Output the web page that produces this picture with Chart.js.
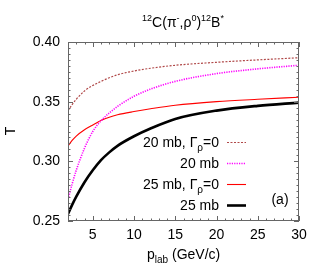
<!DOCTYPE html>
<html>
<head>
<meta charset="utf-8">
<script src="https://cdn.jsdelivr.net/npm/chart.js@4"></script>
<style>
  html, body { margin: 0; padding: 0; background: #fff; }
  #wrap { width: 325px; height: 280px; }
</style>
</head>
<body>
<div id="wrap"><canvas id="grafico" width="325" height="280"></canvas></div>
<script>
// p_lab (GeV/c)
const pLab = [2, 2.5, 3, 4, 5, 6, 7, 8, 10, 12, 15, 20, 25, 30];
// T for each curve
const t20Gamma0 = [0.3425, 0.3475, 0.352, 0.359, 0.3635, 0.367, 0.370, 0.3725, 0.3757, 0.378, 0.3805, 0.383, 0.385, 0.3868];
const t20 = [0.268, 0.281, 0.2925, 0.311, 0.325, 0.334, 0.3405, 0.346, 0.3545, 0.3605, 0.367, 0.3735, 0.3775, 0.3805];
const t25Gamma0 = [0.3129, 0.3175, 0.3212, 0.3265, 0.3305, 0.3342, 0.337, 0.339, 0.3417, 0.344, 0.347, 0.350, 0.352, 0.3537];
const t25 = [0.2559, 0.2635, 0.2704, 0.2825, 0.2925, 0.301, 0.3075, 0.313, 0.321, 0.3275, 0.3355, 0.3425, 0.3465, 0.3492];
const xTicks = [5, 10, 15, 20, 25, 30];
const yTicks = [0.25, 0.30, 0.35, 0.40];

const FONT = 'Liberation Sans, Arial, sans-serif';

function pts(ys) {
    return pLab.map((x, i) => ({ x: x, y: ys[i] }));
}

const series = [
    { label: '20 mb, Γρ=0', data: t20Gamma0, color: '#b04848', width: 1.2, dash: [2, 1.5] },
    { label: '20 mb', data: t20, color: '#ff00ff', width: 1.6, dash: [1.2, 1.2] },
    { label: '25 mb, Γρ=0', data: t25Gamma0, color: '#ff0000', width: 1.1, dash: [] },
    { label: '25 mb', data: t25, color: '#000000', width: 2.6, dash: [] }
];

// desenha texto com partes sobrescritas / subscritas
function richText(ctx, parts, x, y, align) {
    let total = 0;
    parts.forEach(p => {
        ctx.font = p.size + 'px ' + FONT;
        p.w = ctx.measureText(p.t).width;
        total += p.w;
    });
    let cx = align === 'right' ? x - total : (align === 'center' ? x - total / 2 : x);
    parts.forEach(p => {
        ctx.font = p.size + 'px ' + FONT;
        ctx.fillText(p.t, cx, y + (p.dy || 0));
        cx += p.w;
    });
}

const decorPlugin = {
    id: 'decor',
    afterDraw(chart) {
        const ctx = chart.ctx;
        const a = chart.chartArea;
        const xs = chart.scales.x, ys = chart.scales.y;
        ctx.save();

        // moldura
        ctx.strokeStyle = '#666';
        ctx.lineWidth = 1;
        ctx.strokeRect(a.left + 0.5, a.top + 0.5, a.right - a.left - 1, a.bottom - a.top - 1);

        // marcas do eixo X (em cima e em baixo)
        for (let v = 2; v <= 30; v += 1) {
            const px = Math.round(xs.getPixelForValue(v)) + 0.5;
            const len = v % 5 === 0 ? 5 : 2.5;
            ctx.beginPath();
            ctx.moveTo(px, a.bottom); ctx.lineTo(px, a.bottom - len);
            ctx.moveTo(px, a.top); ctx.lineTo(px, a.top + len);
            ctx.stroke();
        }
        // marcas do eixo Y (esquerda e direita)
        for (let k = 0; k <= 30; k++) {
            const v = 0.25 + k * 0.005;
            const py = Math.round(ys.getPixelForValue(v)) + 0.5;
            const len = k % 10 === 0 ? 5 : 2.5;
            ctx.beginPath();
            ctx.moveTo(a.left, py); ctx.lineTo(a.left + len, py);
            ctx.moveTo(a.right, py); ctx.lineTo(a.right - len, py);
            ctx.stroke();
        }

        ctx.fillStyle = '#000';
        ctx.textBaseline = 'alphabetic';

        // título
        richText(ctx, [
            { t: '12', size: 9, dy: -6 },
            { t: 'C(π', size: 14 },
            { t: '-', size: 9, dy: -6 },
            { t: ',ρ', size: 14 },
            { t: '0', size: 9, dy: -6 },
            { t: ')', size: 14 },
            { t: '12', size: 9, dy: -6 },
            { t: 'B', size: 14 },
            { t: '*', size: 9, dy: -6 }
        ], 183, 27, 'center');

        // título do eixo X
        richText(ctx, [
            { t: 'p', size: 14 },
            { t: 'lab', size: 10, dy: 4 },
            { t: ' (GeV/c)', size: 14 }
        ], 147, 259, 'left');

        // título do eixo Y
        ctx.save();
        ctx.translate(15, 131);
        ctx.rotate(-Math.PI / 2);
        ctx.font = '14px ' + FONT;
        ctx.textAlign = 'center';
        ctx.fillText('T', 0, 0);
        ctx.restore();

        // legenda
        const rows = [142, 163, 184, 205];
        series.forEach((s, i) => {
            const y = rows[i];
            let parts;
            if (s.label.indexOf('Γ') >= 0) {
                const base = s.label.split('Γ')[0];
                parts = [
                    { t: base + 'Γ', size: 14 },
                    { t: 'ρ', size: 10, dy: 4 },
                    { t: '=0', size: 14 }
                ];
            } else {
                parts = [{ t: s.label, size: 14 }];
            }
            richText(ctx, parts, 219, y + 5, 'right');
            ctx.beginPath();
            ctx.strokeStyle = s.color;
            ctx.lineWidth = s.width;
            ctx.setLineDash(s.dash);
            ctx.moveTo(227, y + 0.5);
            ctx.lineTo(246, y + 0.5);
            ctx.stroke();
            ctx.setLineDash([]);
        });

        ctx.font = '14px ' + FONT;
        ctx.textAlign = 'center';
        ctx.fillText('(a)', 280, 204);

        ctx.restore();
    }
};

const grafico = new Chart(document.getElementById('grafico').getContext('2d'), {
    type: 'line',
    data: {
        datasets: series.map(s => ({
            label: s.label,
            data: pts(s.data),
            borderColor: s.color,
            borderWidth: s.width,
            borderDash: s.dash,
            pointRadius: 0,
            fill: false,
            cubicInterpolationMode: 'monotone'
        }))
    },
    options: {
        responsive: false,
        animation: false,
        layout: { padding: { left: 0, right: 26, top: 42, bottom: 0 } },
        plugins: { legend: { display: false }, tooltip: { enabled: false } },
        scales: {
            x: {
                type: 'linear',
                min: 2,
                max: 30,
                grid: { display: false, drawTicks: false },
                border: { display: false },
                afterBuildTicks: s => { s.ticks = xTicks.map(v => ({ value: v })); },
                afterFit: s => { s.height = 59; },
                ticks: {
                    color: '#000',
                    padding: 6,
                    maxRotation: 0,
                    font: { family: FONT, size: 14 }
                }
            },
            y: {
                type: 'linear',
                min: 0.25,
                max: 0.40,
                grid: { display: false, drawTicks: false },
                border: { display: false },
                afterBuildTicks: s => { s.ticks = yTicks.map(v => ({ value: v })); },
                afterFit: s => { s.width = 68; },
                ticks: {
                    color: '#000',
                    padding: 8,
                    font: { family: FONT, size: 14 },
                    callback: v => v.toFixed(2)
                }
            }
        }
    },
    plugins: [decorPlugin]
});
</script>
</body>
</html>
